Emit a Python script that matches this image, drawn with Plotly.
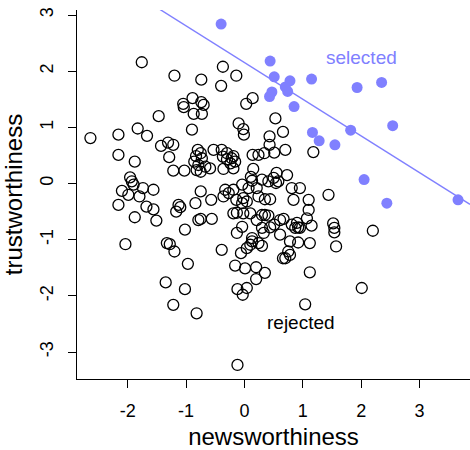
import numpy as np
import plotly.graph_objects as go

# Rejected (open circles): newsworthiness, trustworthiness
rej_news = [-1.76, -1.20, -0.74, -0.89, -0.74, -1.05, -1.04, -0.70, -0.87, -0.73,
            -1.47, -1.83, -0.90, -0.37, -0.14, -0.40, 0.14, 0.03, 0.53, -0.10,
            -0.02, 0.66, -2.64, -2.16, -1.67, -1.43, -1.31, -1.22, -1.29, -2.16,
            -1.88, -0.80, -0.75, -0.83, -0.73, -0.86, -0.79, -0.82, -0.67, -0.75,
            -1.22, -1.03, -1.96, -1.93, -1.90, -2.10, -1.99, -1.74, -1.56, -1.80,
            -2.16, -1.68, -1.56, -1.88, -1.51, -1.13, -1.10, -1.17, -0.84, -0.75,
            -0.57, -0.79, -0.75, -1.02, -2.04, -1.33, -1.28, -1.20, -0.97, -1.35,
            -1.02, -1.22, -0.82, -0.01, 0.43, 0.43, 0.70, 0.51, 0.34, 0.24,
            0.14, 1.18, -0.53, -0.39, -0.37, -0.30, -0.22, -0.19, -0.24, -0.30,
            -0.16, -0.59, -0.36, -0.19, 0.15, 0.11, 0.13, 0.30, 0.41, 0.50,
            0.55, 0.58, 0.54, 0.73, -0.04, 0.07, 0.21, -0.19, -0.33, -0.27,
            -0.36, 0.81, 0.95, 0.84, 1.10, 1.44, -0.02, 0.04, -0.04, -0.14,
            0.24, 0.35, 0.44, -0.19, -0.13, -0.02, 0.10, 0.30, 0.35, 0.41,
            0.21, -0.56, 0.61, 0.67, 0.51, 0.81, 0.90, 0.92, 0.87, 0.95,
            1.10, 1.07, 1.15, 1.52, 1.54, -0.04, 0.30, 0.44, -0.13, 0.13,
            0.13, 0.10, 0.33, 0.61, 0.78, 0.92, -0.39, 0.04, 0.24, 0.30,
            1.12, 1.57, 1.54, 2.20, -0.06, 0.75, 0.78, 0.70, 0.66, -0.16,
            0.01, 0.20, 0.35, 0.20, -0.12, 0.04, -0.03, 1.12, 1.04, -0.12,
            2.01]
rej_trust = [2.16, 1.92, 1.85, 1.52, 1.45, 1.42, 1.36, 1.40, 1.24, 1.24,
             1.20, 0.98, 0.96, 2.08, 1.92, 1.74, 1.52, 1.42, 1.16, 1.07,
             0.97, 0.92, 0.81, 0.87, 0.85, 0.67, 0.73, 0.69, 0.47, 0.51,
             0.39, 0.60, 0.54, 0.49, 0.45, 0.39, 0.33, 0.24, 0.30, 0.21,
             0.23, 0.23, 0.11, 0.04, -0.02, -0.13, -0.20, -0.08, -0.11, -0.23,
             -0.38, -0.41, -0.46, -0.60, -0.66, -0.38, -0.42, -0.50, -0.35, -0.14,
             -0.29, -0.65, -0.63, -0.82, -1.08, -1.06, -1.08, -1.21, -1.43, -1.76,
             -1.88, -2.16, -2.31, 0.87, 0.84, 0.69, 0.60, 0.55, 0.54, 0.51,
             0.51, 0.56, 0.60, 0.60, 0.48, 0.43, 0.45, 0.49, 0.36, 0.54,
             0.39, 0.27, 0.26, 0.27, 0.26, 0.12, 0.05, 0.07, 0.04, 0.10,
             0.19, 0.04, 0.01, 0.15, -0.02, -0.08, -0.08, -0.11, -0.11, -0.17,
             -0.23, -0.08, -0.08, -0.29, -0.29, -0.20, -0.26, -0.32, -0.35, -0.29,
             -0.23, -0.28, -0.28, -0.53, -0.52, -0.53, -0.53, -0.56, -0.56, -0.57,
             -0.65, -0.63, -0.65, -0.63, -0.73, -0.73, -0.70, -0.78, -0.79, -0.79,
             -0.47, -0.62, -0.75, -0.71, -0.87, -0.77, -0.79, -0.78, -0.88, -0.97,
             -1.03, -1.09, -0.88, -0.91, -1.03, -1.05, -1.18, -1.15, -1.06, -1.11,
             -1.06, -1.12, -0.79, -0.84, -1.24, -1.21, -1.27, -1.33, -1.33, -1.46,
             -1.51, -1.49, -1.59, -1.70, -1.88, -1.86, -1.98, -1.58, -2.15, -3.23,
             -1.86]

# Selected (filled points)
sel_news = [-0.40, 0.44, 0.51, 0.78, 1.15, 0.47, 0.43, 0.70, 0.74, 0.85,
            1.165, 1.28, 1.55, 1.82, 1.93, 2.35, 2.54, 2.05, 2.44, 3.66]
sel_trust = [2.84, 2.18, 1.90, 1.83, 1.86, 1.63, 1.55, 1.72, 1.64, 1.37,
             0.91, 0.76, 0.69, 0.95, 1.71, 1.80, 1.03, 0.07, -0.35, -0.29]

x_ticks = [-2, -1, 0, 1, 2, 3]
y_ticks = [-3, -2, -1, 0, 1, 2, 3]
x_range = [-2.87, 3.865]
y_range = [-3.48, 3.09]

rangi2 = "#8080FF"
FONT = "Liberation Sans, Arial, sans-serif"

# regression of trustworthiness on newsworthiness among selected
slope, intercept = np.polyfit(sel_news, sel_trust, 1)
lx = np.array(x_range)
ly = intercept + slope * lx

fig = go.Figure()
fig.add_trace(go.Scatter(
    x=rej_news, y=rej_trust, mode="markers",
    marker=dict(symbol="circle-open", size=11, color="black", line=dict(width=1.3, color="black")),
    showlegend=False, hoverinfo="skip"))
fig.add_trace(go.Scatter(
    x=lx, y=ly, mode="lines", line=dict(color=rangi2, width=1.4),
    showlegend=False, hoverinfo="skip"))
fig.add_trace(go.Scatter(
    x=sel_news, y=sel_trust, mode="markers",
    marker=dict(symbol="circle", size=11, color=rangi2, line=dict(width=0)),
    showlegend=False, hoverinfo="skip"))

fig.add_annotation(x=2.0, y=2.25, text="selected", showarrow=False,
                   font=dict(family=FONT, size=19, color=rangi2))
fig.add_annotation(x=0.97, y=-2.48, text="rejected", showarrow=False,
                   font=dict(family=FONT, size=19, color="black"))

fig.update_layout(
    width=470, height=450,
    margin=dict(l=77, r=0, t=10, b=71),
    plot_bgcolor="white", paper_bgcolor="white",
    font=dict(family=FONT, color="black"),
    xaxis=dict(range=x_range, tickvals=x_ticks, ticktext=[str(v) for v in x_ticks],
               showgrid=False, zeroline=False, showline=True, linecolor="black", linewidth=1.2,
               ticks="outside", ticklen=8, tickwidth=1.2, tickcolor="black",
               tickfont=dict(size=18, family=FONT), ticklabelstandoff=7,
               title=dict(text="newsworthiness", font=dict(size=24, family=FONT), standoff=8)),
    yaxis=dict(range=y_range, tickvals=y_ticks, ticktext=[str(v) for v in y_ticks],
               showgrid=False, zeroline=False, showline=True, linecolor="black", linewidth=1.2,
               ticks="outside", ticklen=8, tickwidth=1.2, tickcolor="black", tickangle=-90,
               tickfont=dict(size=18, family=FONT), ticklabelstandoff=8,
               title=dict(text="trustworthiness", font=dict(size=24, family=FONT), standoff=9)),
)

fig.write_html("out.html")
